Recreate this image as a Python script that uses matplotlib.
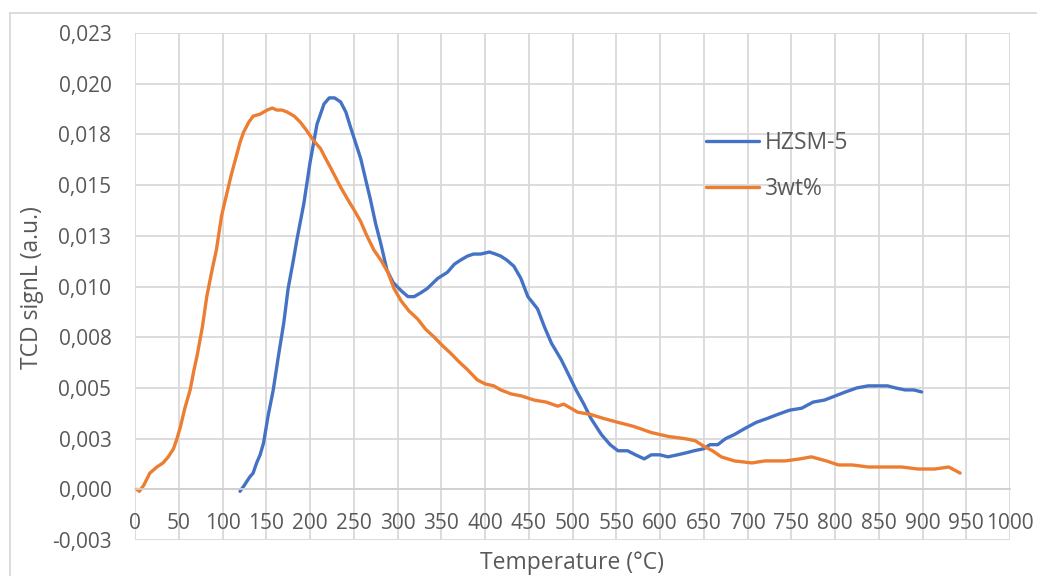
import matplotlib
matplotlib.use("Agg")
import matplotlib.pyplot as plt
from matplotlib.lines import Line2D

# ---- data ----
hzsm5_T = [120, 125, 131, 135, 139, 143, 147, 152, 158, 164, 170, 175, 181, 185, 193, 200,
           208, 216, 222, 228, 235, 241, 246, 252, 258, 264, 269, 275, 281, 288, 295, 304,
           312, 319, 327, 334, 346, 357, 365, 372, 380, 387, 395, 405, 412, 418, 425, 433,
           441, 449, 460, 468, 476, 487, 495, 504, 513, 521, 533, 543, 552, 563, 572, 582,
           590, 600, 609, 620, 630, 639, 650, 657, 666, 675, 685, 697, 710, 723, 735, 748,
           762, 775, 788, 800, 812, 825, 838, 850, 860, 869, 880, 890, 899]
hzsm5_v = [-0.0001, 0.0002, 0.0006, 0.0008, 0.0013, 0.0017, 0.0023, 0.0036, 0.0049, 0.0066,
           0.0082, 0.0099, 0.0113, 0.0123, 0.0141, 0.0161, 0.0180, 0.0190, 0.0193, 0.0193,
           0.0191, 0.0186, 0.0179, 0.0171, 0.0163, 0.0152, 0.0143, 0.0131, 0.0121, 0.0108,
           0.0102, 0.0098, 0.0095, 0.0095, 0.0097, 0.0099, 0.0104, 0.0107, 0.0111, 0.0113,
           0.0115, 0.0116, 0.0116, 0.0117, 0.0116, 0.0115, 0.0113, 0.0110, 0.0104, 0.0095,
           0.0089, 0.0080, 0.0072, 0.0064, 0.0057, 0.0049, 0.0042, 0.0035, 0.0027, 0.0022,
           0.0019, 0.0019, 0.0017, 0.0015, 0.0017, 0.0017, 0.0016, 0.0017, 0.0018, 0.0019,
           0.0020, 0.0022, 0.0022, 0.0025, 0.0027, 0.0030, 0.0033, 0.0035, 0.0037, 0.0039,
           0.0040, 0.0043, 0.0044, 0.0046, 0.0048, 0.0050, 0.0051, 0.0051, 0.0051, 0.0050,
           0.0049, 0.0049, 0.0048]

wt3_T = [2, 5, 10, 17, 25, 32, 38, 44, 48, 52, 57, 63, 67, 71, 77, 82, 88, 93, 99, 105,
         110, 115, 120, 124, 130, 135, 143, 151, 157, 162, 168, 174, 182, 189, 196, 204,
         212, 218, 223, 229, 235, 243, 250, 258, 265, 273, 281, 289, 296, 304, 313, 323,
         332, 342, 351, 361, 370, 380, 391, 400, 410, 418, 430, 442, 456, 470, 483, 490,
         506, 520, 535, 552, 570, 590, 610, 628, 640, 651, 660, 670, 685, 705, 720, 735,
         743, 760, 773, 790, 804, 820, 838, 855, 876, 895, 914, 930, 943]
wt3_v = [0.0000, -0.0001, 0.0002, 0.0008, 0.0011, 0.0013, 0.0016, 0.0020, 0.0025, 0.0031,
         0.0040, 0.0049, 0.0058, 0.0066, 0.0080, 0.0095, 0.0108, 0.0118, 0.0135, 0.0146,
         0.0155, 0.0163, 0.0171, 0.0176, 0.0181, 0.0184, 0.0185, 0.0187, 0.0188, 0.0187,
         0.0187, 0.0186, 0.0184, 0.0181, 0.0177, 0.0172, 0.0168, 0.0163, 0.0159, 0.0154,
         0.0149, 0.0143, 0.0138, 0.0132, 0.0125, 0.0118, 0.0113, 0.0107, 0.0099, 0.0093,
         0.0088, 0.0084, 0.0079, 0.0075, 0.0071, 0.0067, 0.0063, 0.0059, 0.0054, 0.0052,
         0.0051, 0.0049, 0.0047, 0.0046, 0.0044, 0.0043, 0.0041, 0.0042, 0.0038, 0.0037,
         0.0035, 0.0033, 0.0031, 0.0028, 0.0026, 0.0025, 0.0024, 0.0021, 0.0019, 0.0016,
         0.0014, 0.0013, 0.0014, 0.0014, 0.0014, 0.0015, 0.0016, 0.0014, 0.0012, 0.0012,
         0.0011, 0.0011, 0.0011, 0.0010, 0.0010, 0.0011, 0.0008]

series_names = ["HZSM-5", "3wt%"]
x_ticks = list(range(0, 1001, 50))
x_tick_labels = [str(t) for t in x_ticks]
y_ticks = [-0.0025, 0.0, 0.0025, 0.005, 0.0075, 0.01, 0.0125, 0.015, 0.0175, 0.02, 0.0225]
y_tick_labels = ["-0,003", "0,000", "0,003", "0,005", "0,008", "0,010", "0,013",
                 "0,015", "0,018", "0,020", "0,023"]
x_label = "Temperature (°C)"
y_label = "TCD signL (a.u.)"

# ---- style ----
W, H = 1037, 576
plt.rcParams['font.family'] = ['Open Sans', 'DejaVu Sans']
txt_color = "#595959"
grid_color = "#D9D9D9"
blue = "#4472C4"
orange = "#ED7D31"
fs_tick = 15
fs_title = 16.5

fig = plt.figure(figsize=(W / 100, H / 100), dpi=100)
ax = fig.add_axes([135 / W, 1 - 540 / H, (1010 - 135) / W, (540 - 33) / H])

ax.plot(hzsm5_T, hzsm5_v, color=blue, lw=2.4, label=series_names[0], solid_capstyle='round')
ax.plot(wt3_T, wt3_v, color=orange, lw=2.4, label=series_names[1], solid_capstyle='round')

ax.set_xlim(0, 1000)
ax.set_ylim(-0.0025, 0.0225)
ax.set_xticks(x_ticks)
ax.set_xticklabels(x_tick_labels)
ax.set_yticks(y_ticks)
ax.set_yticklabels(y_tick_labels)
ax.grid(True, color=grid_color, lw=1.3)
ax.set_axisbelow(True)
for s in ['top', 'right', 'left']:
    ax.spines[s].set_visible(False)
ax.spines['bottom'].set_position(('data', 0))
ax.spines['bottom'].set_color("#D0D0D0")
ax.spines['bottom'].set_linewidth(1.3)
ax.tick_params(axis='x', length=0, pad=17, labelsize=fs_tick, labelcolor=txt_color)
ax.tick_params(axis='y', length=0, pad=17, labelsize=fs_tick, labelcolor=txt_color)

fig.text(572 / W, 1 - 563 / H, x_label, ha='center', va='center', fontsize=fs_title,
         color=txt_color)
fig.text(32 / W, 1 - 288 / H, y_label, ha='center', va='center', rotation=90,
         fontsize=fs_title, color=txt_color)

leg = ax.legend(loc='upper left', bbox_to_anchor=(706 / W, 1 - 131 / H),
                bbox_transform=fig.transFigure, frameon=False, fontsize=fs_title,
                handlelength=2.3, handletextpad=0.25, labelspacing=0.95, borderpad=0,
                borderaxespad=0)
for t in leg.get_texts():
    t.set_color(txt_color)

# outer chart border
fig.add_artist(Line2D([10 / W, 1.0], [1 - 13 / H, 1 - 13 / H], transform=fig.transFigure,
                      color=grid_color, lw=1.3))
fig.add_artist(Line2D([10 / W, 10 / W], [0, 1 - 13 / H], transform=fig.transFigure,
                      color=grid_color, lw=1.3))

fig.savefig("out.png", dpi=100)
